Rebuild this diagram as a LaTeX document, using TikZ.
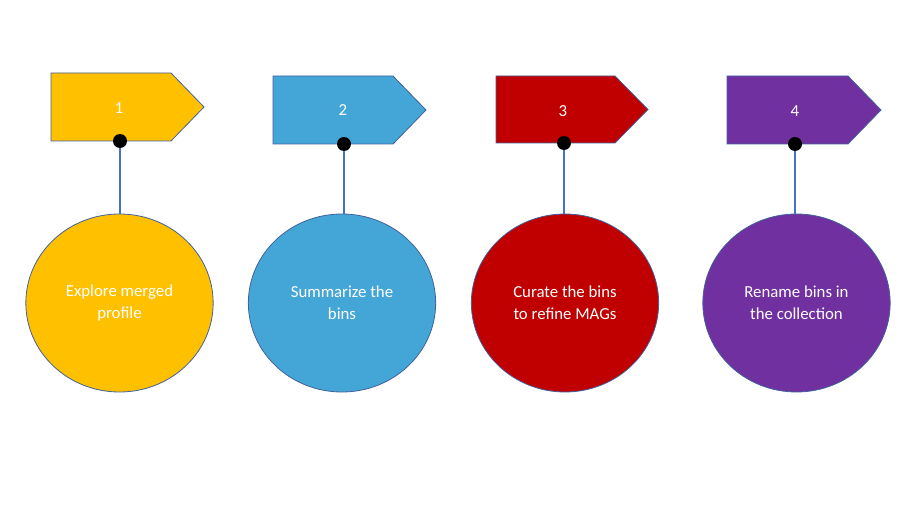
\documentclass[tikz,border=0pt]{standalone}
\usepackage{fontspec}
\setmainfont{Carlito}
\usetikzlibrary{shapes.geometric}
\definecolor{cyel}{HTML}{FFC000}
\definecolor{cblu}{HTML}{44A6D6}
\definecolor{cred}{HTML}{C00000}
\definecolor{cpur}{HTML}{7030A0}
\definecolor{cedge}{HTML}{41619C}
\definecolor{cline}{HTML}{4472C4}
\tikzset{
  tag/.style={draw=cedge, line width=0.6pt},
  tagtext/.style={text=white, font=\fontsize{12.6pt}{15pt}\selectfont, inner sep=0pt},
  pin/.style={circle, fill=black, inner sep=0pt, minimum size=10.5pt},
  bubble/.style={ellipse, draw=cedge, line width=0.6pt, minimum width=140.5pt, minimum height=133.5pt, text=white, align=center, font=\fontsize{12.6pt}{16.5pt}\selectfont, inner sep=0pt},
  link/.style={draw=cline, line width=0.9pt}
}
\begin{document}
\begin{tikzpicture}[x=0.75pt, y=-0.75pt]
\useasboundingbox (0,0) rectangle (908,510);
% 1
\draw[tag, fill=cyel] (51,73) -- (171,73) -- (204,107) -- (171,141) -- (51,141) -- cycle;
\node[tagtext] (t1) at (119,108) {1};
\node[bubble, fill=cyel] (c1) at (119.5,303) {Explore merged\\profile};
\node[pin] (d1) at (120,141) {};
\draw[link] (d1.south) -- (d1.south |- c1.north);
% 2
\draw[tag, fill=cblu] (273,76) -- (393,76) -- (426,110) -- (393,144) -- (273,144) -- cycle;
\node[tagtext] (t2) at (343,110) {2};
\node[bubble, fill=cblu] (c2) at (342,303) {Summarize the\\bins};
\node[pin] (d2) at (344,144) {};
\draw[link] (d2.south) -- (d2.south |- c2.north);
% 3
\draw[tag, fill=cred] (496,76) -- (615,76) -- (648,109.5) -- (615,143) -- (496,143) -- cycle;
\node[tagtext] (t3) at (563,111) {3};
\node[bubble, fill=cred] (c3) at (565,303) {Curate the bins\\to refine MAGs};
\node[pin] (d3) at (564,143) {};
\draw[link] (d3.south) -- (d3.south |- c3.north);
% 4
\draw[tag, fill=cpur] (727,76) -- (848,76) -- (881,110) -- (848,144) -- (727,144) -- cycle;
\node[tagtext] (t4) at (795,111) {4};
\node[bubble, fill=cpur] (c4) at (796.5,303) {Rename bins in\\the collection};
\node[pin] (d4) at (795,144) {};
\draw[link] (d4.south) -- (d4.south |- c4.north);
\end{tikzpicture}
\end{document}
